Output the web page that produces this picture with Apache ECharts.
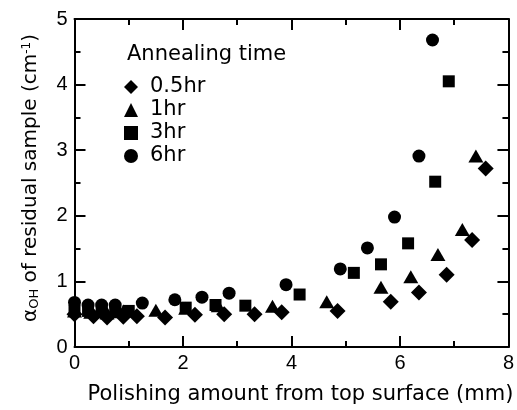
<!DOCTYPE html>
<html><head><meta charset="utf-8">
<script src="https://cdn.jsdelivr.net/npm/echarts@6/dist/echarts.min.js"></script>
<style>html,body{margin:0;padding:0;background:#fff}#c{width:517px;height:410px}</style>
</head><body><div id="c"></div>
<script>
// Data
const seriesNames = ['0.5hr', '1hr', '3hr', '6hr'];
const x05 = [0, 0.35, 0.6, 0.9, 1.15, 1.67, 2.22, 2.76, 3.32, 3.82, 4.85, 5.83, 6.35, 6.86, 7.33, 7.58];
const y05 = [0.5, 0.47, 0.45, 0.46, 0.47, 0.45, 0.49, 0.5, 0.5, 0.53, 0.55, 0.69, 0.83, 1.10, 1.63, 2.72];
const x1 = [0, 0.3, 0.6, 0.9, 1.5, 2.05, 2.65, 3.65, 4.65, 5.65, 6.2, 6.7, 7.15, 7.4];
const y1 = [0.55, 0.53, 0.52, 0.55, 0.56, 0.59, 0.63, 0.62, 0.69, 0.91, 1.07, 1.41, 1.79, 2.91];
const x3 = [0, 0.25, 0.5, 0.75, 1.0, 2.05, 2.6, 3.15, 4.15, 5.15, 5.65, 6.15, 6.65, 6.9];
const y3 = [0.55, 0.55, 0.53, 0.53, 0.55, 0.6, 0.64, 0.63, 0.8, 1.13, 1.26, 1.58, 2.52, 4.05];
const x6 = [0, 0.25, 0.5, 0.75, 1.25, 1.85, 2.35, 2.85, 3.9, 4.9, 5.4, 5.9, 6.35, 6.6];
const y6 = [0.68, 0.64, 0.64, 0.64, 0.67, 0.72, 0.76, 0.82, 0.95, 1.19, 1.51, 1.98, 2.91, 4.68];

const pairs = (xs, ys) => xs.map((v, i) => [v, ys[i]]);
const FONT = 'Liberation Sans';
const WFONT = 'DejaVu Sans';
const chart = echarts.init(document.getElementById('c'));
const axisCommon = () => ({
  axisLine: {onZero: false, lineStyle: {color: '#000', width: 2}},
  axisTick: {inside: true, length: 11, lineStyle: {color: '#000', width: 2}},
  minorTick: {show: true, splitNumber: 2, length: 6, lineStyle: {color: '#000', width: 2}},
  splitLine: {show: false}
});
chart.setOption({
  animation: false,
  backgroundColor: '#fff',
  textStyle: {fontFamily: FONT},
  grid: {left: 74.5, right: 2, top: 19, bottom: 61},
  title: {text: 'Annealing time', left: 122, top: 39.5,
    textStyle: {fontFamily: WFONT, fontSize: 21, fontWeight: 'normal', color: '#000'}},
  legend: {
    orient: 'vertical', left: 119, top: 71.5, itemWidth: 14, itemHeight: 14, itemGap: 2,
    data: [
      {name: seriesNames[0], icon: 'path://M7,0L14,7L7,14L0,7Z'},
      {name: seriesNames[1]},
      {name: seriesNames[2]},
      {name: seriesNames[3]}
    ],
    textStyle: {fontFamily: WFONT, fontSize: 21, color: '#000', lineHeight: 21, padding: [0, 0, 0, 7]}
  },
  xAxis: [
    Object.assign({type: 'value', min: 0, max: 8, interval: 2, position: 'bottom',
      name: 'Polishing amount from top surface (mm)', nameLocation: 'middle', nameGap: 37,
      nameTextStyle: {fontFamily: WFONT, fontSize: 21, color: '#000', padding: [0, 0, 0, 18]},
      axisLabel: {color: '#000', fontSize: 20, fontFamily: FONT, margin: 6}}, axisCommon()),
    Object.assign({type: 'value', min: 0, max: 8, interval: 2, position: 'top',
      axisLabel: {show: false}}, axisCommon())
  ],
  yAxis: [
    Object.assign({type: 'value', min: 0, max: 5, interval: 1, position: 'left',
      name: '{a|α}{s|OH}{a| of residual sample (cm}{p|-1}{a|)}', nameLocation: 'middle', nameGap: 33,
      nameTextStyle: {fontFamily: WFONT, fontSize: 20, color: '#000', padding: [0, 0, 0, 10],
        rich: {
          a: {fontFamily: WFONT, fontSize: 20, color: '#000'},
          s: {fontFamily: WFONT, fontSize: 13, color: '#000', verticalAlign: 'bottom', padding: [8, 0, 0, 0]},
          p: {fontFamily: WFONT, fontSize: 12, color: '#000', verticalAlign: 'top', padding: [0, 0, 8, 0]}
        }},
      axisLabel: {color: '#000', fontSize: 20, fontFamily: FONT, margin: 7}}, axisCommon()),
    Object.assign({type: 'value', min: 0, max: 5, interval: 1, position: 'right',
      axisLabel: {show: false}}, axisCommon())
  ],
  series: [
    {name: '0.5hr', type: 'scatter', symbol: 'diamond', symbolSize: [16, 16], data: pairs(x05, y05), itemStyle: {color: '#000', opacity: 1}},
    {name: '1hr', type: 'scatter', symbol: 'triangle', symbolSize: [15, 13], data: pairs(x1, y1), itemStyle: {color: '#000', opacity: 1}},
    {name: '3hr', type: 'scatter', symbol: 'rect', symbolSize: 12, data: pairs(x3, y3), itemStyle: {color: '#000', opacity: 1}},
    {name: '6hr', type: 'scatter', symbol: 'circle', symbolSize: 13, data: pairs(x6, y6), itemStyle: {color: '#000', opacity: 1}}
  ]
});
</script></body></html>
